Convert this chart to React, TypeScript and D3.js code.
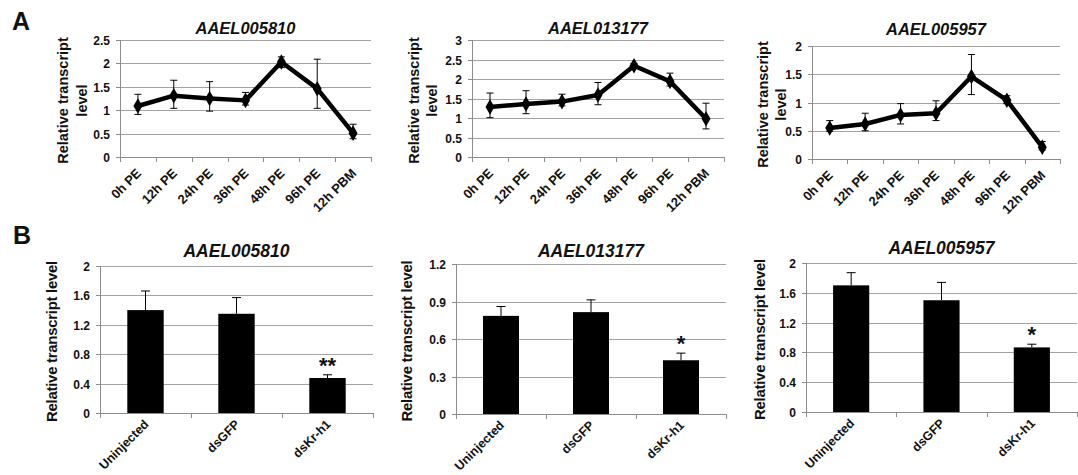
import { useEffect, useRef } from 'react';
import * as d3 from 'd3';

// categories
const timepoints = ['0h PE', '12h PE', '24h PE', '36h PE', '48h PE', '96h PE', '12h PBM'];
const treatments = ['Uninjected', 'dsGFP', 'dsKr-h1'];
const genes = ['AAEL005810', 'AAEL013177', 'AAEL005957'];

// Panel A: time course (mean, lower and upper error bar ends)
const a005810Mean = [1.09, 1.31, 1.25, 1.21, 2.03, 1.46, 0.51];
const a005810Low = [0.91, 1.04, 0.98, 1.11, 1.91, 1.04, 0.39];
const a005810High = [1.34, 1.64, 1.61, 1.38, 2.14, 2.09, 0.70];

const a013177Mean = [1.28, 1.36, 1.42, 1.59, 2.34, 1.94, 0.98];
const a013177Low = [1.01, 1.11, 1.31, 1.34, 2.28, 1.82, 0.72];
const a013177High = [1.64, 1.70, 1.61, 1.91, 2.40, 2.15, 1.38];

const a005957Mean = [0.55, 0.62, 0.78, 0.81, 1.46, 1.04, 0.21];
const a005957Low = [0.49, 0.50, 0.62, 0.68, 1.14, 0.98, 0.16];
const a005957High = [0.68, 0.81, 0.98, 1.03, 1.85, 1.12, 0.31];

const aTicks = [
  [0, 0.5, 1, 1.5, 2, 2.5],
  [0, 0.5, 1, 1.5, 2, 2.5, 3],
  [0, 0.5, 1, 1.5, 2],
];

// Panel B: knockdown (mean and upper error bar end)
const b005810Mean = [1.40, 1.35, 0.476];
const b005810High = [1.66, 1.57, 0.52];
const b013177Mean = [0.785, 0.815, 0.43];
const b013177High = [0.86, 0.913, 0.487];
const b005957Mean = [1.70, 1.50, 0.867];
const b005957High = [1.87, 1.74, 0.91];
const bStars = [['', '', '**'], ['', '', '*'], ['', '', '*']];

const bTicks = [
  [0, 0.4, 0.8, 1.2, 1.6, 2],
  [0, 0.3, 0.6, 0.9, 1.2],
  [0, 0.4, 0.8, 1.2, 1.6, 2],
];

const FONT = "'Liberation Sans', Arial, sans-serif";
const GRID = '#a3a3a3';
const INK = '#111';

const aFrames = [
  { left: 120, right: 371, top: 40, bottom: 157, titleY: 34, lab1: 63, lab2: 82 },
  { left: 472, right: 724, top: 40, bottom: 157, titleY: 34, lab1: 414, lab2: 432 },
  { left: 812, right: 1060, top: 46, bottom: 159, titleY: 35, lab1: 763, lab2: 781 },
];
const bFrames = [
  { left: 100, right: 373, top: 266, bottom: 413, titleY: 257, lab: 52 },
  { left: 456, right: 726, top: 264, bottom: 414, titleY: 257, lab: 407 },
  { left: 806, right: 1077, top: 263, bottom: 412, titleY: 254, lab: 760 },
];

const drawFrame = (g, x, y, ticks, f, cats) => {
  // gridlines
  g.selectAll('.grid').data(ticks.slice(1)).enter().append('line')
    .attr('x1', f.left).attr('x2', f.right)
    .attr('y1', d => Math.round(y(d)) + 0.5).attr('y2', d => Math.round(y(d)) + 0.5)
    .attr('stroke', GRID).attr('stroke-width', 1);

  // axes
  g.append('line').attr('x1', f.left + 0.5).attr('x2', f.left + 0.5)
    .attr('y1', f.top).attr('y2', f.bottom).attr('stroke', '#8c8c8c');
  g.append('line').attr('x1', f.left).attr('x2', f.right)
    .attr('y1', f.bottom + 0.5).attr('y2', f.bottom + 0.5).attr('stroke', '#8c8c8c');

  // y ticks + labels
  ticks.forEach(t => {
    const yy = Math.round(y(t)) + 0.5;
    g.append('line').attr('x1', f.left - 4).attr('x2', f.left).attr('y1', yy).attr('y2', yy).attr('stroke', '#8c8c8c');
    g.append('text').attr('x', f.left - 10).attr('y', yy).attr('dy', '0.35em')
      .attr('text-anchor', 'end').attr('font-family', FONT).attr('font-weight', 'bold')
      .attr('font-size', 12).attr('fill', INK).text(String(t));
  });

  // x ticks at category boundaries
  const edges = cats.map(c => x(c)).concat([x(cats[cats.length - 1]) + x.bandwidth()]);
  edges.forEach(e => {
    g.append('line').attr('x1', Math.round(e) + 0.5).attr('x2', Math.round(e) + 0.5)
      .attr('y1', f.bottom).attr('y2', f.bottom + 5).attr('stroke', '#8c8c8c');
  });
};

const xLabels = (g, x, f, cats, dx, dy, size) => {
  cats.forEach(c => {
    const cx = x(c) + x.bandwidth() / 2 + dx;
    const cy = f.bottom + dy;
    g.append('text').attr('transform', `translate(${cx},${cy}) rotate(-45)`)
      .attr('text-anchor', 'end').attr('font-family', FONT).attr('font-weight', 'bold')
      .attr('font-size', size).attr('fill', INK).text(c);
  });
};

const title = (g, f, name, size) => {
  g.append('text').attr('x', (f.left + f.right) / 2).attr('y', f.titleY)
    .attr('text-anchor', 'middle').attr('font-family', FONT).attr('font-weight', 'bold')
    .attr('font-style', 'italic').attr('font-size', size).attr('fill', INK).text(name);
};

const App = () => {
  const svgRef = useRef(null);

  useEffect(() => {
    const svg = d3.select(svgRef.current);
    svg.selectAll('*').remove();

    const aSeries = [
      { mean: a005810Mean, low: a005810Low, high: a005810High },
      { mean: a013177Mean, low: a013177Low, high: a013177High },
      { mean: a005957Mean, low: a005957Low, high: a005957High },
    ];
    const bSeries = [
      { mean: b005810Mean, high: b005810High },
      { mean: b013177Mean, high: b013177High },
      { mean: b005957Mean, high: b005957High },
    ];

    // panel letters
    svg.append('text').attr('x', 12).attr('y', 30).attr('font-family', FONT).attr('font-weight', 'bold')
      .attr('font-size', 25).attr('fill', INK).text('A');
    svg.append('text').attr('x', 13).attr('y', 244).attr('font-family', FONT).attr('font-weight', 'bold')
      .attr('font-size', 25).attr('fill', INK).text('B');

    // ---- Panel A: line charts
    aSeries.forEach((s, i) => {
      const f = aFrames[i];
      const ticks = aTicks[i];
      const g = svg.append('g');
      const x = d3.scaleBand().domain(timepoints).range([f.left, f.right]).padding(0);
      const y = d3.scaleLinear().domain([0, d3.max(ticks)]).range([f.bottom, f.top]);
      const cx = c => x(c) + x.bandwidth() / 2;

      drawFrame(g, x, y, ticks, f, timepoints);

      const pts = timepoints.map((c, k) => ({ c, v: s.mean[k], lo: s.low[k], hi: s.high[k] }));

      const line = d3.line().x(d => cx(d.c)).y(d => y(d.v));
      g.append('path').datum(pts).attr('d', line).attr('fill', 'none')
        .attr('stroke', '#000').attr('stroke-width', 4.5).attr('stroke-linejoin', 'round');

      pts.forEach(d => {
        const px = cx(d.c);
        g.append('line').attr('x1', px).attr('x2', px).attr('y1', y(d.lo)).attr('y2', y(d.hi))
          .attr('stroke', '#000').attr('stroke-width', 1);
        [d.lo, d.hi].forEach(v => {
          g.append('line').attr('x1', px - 3.5).attr('x2', px + 3.5).attr('y1', y(v)).attr('y2', y(v))
            .attr('stroke', '#000').attr('stroke-width', 1);
        });
        g.append('path').attr('d', d3.symbol(d3.symbolDiamond, 70)())
          .attr('transform', `translate(${px},${y(d.v)})`).attr('fill', '#000');
      });

      xLabels(g, x, f, timepoints, 4, 17, 13);
      title(g, f, genes[i], 16.5);

      // two-line y label
      const ly = (f.top + f.bottom) / 2 + 2;
      [['Relative transcript', f.lab1], ['level', f.lab2]].forEach(([t, lx]) => {
        g.append('text').attr('transform', `translate(${lx},${ly}) rotate(-90)`).attr('dy', '0.35em')
          .attr('text-anchor', 'middle').attr('font-family', FONT).attr('font-weight', 'bold')
          .attr('font-size', 14.5).attr('fill', INK).text(t);
      });
    });

    // ---- Panel B: bar charts
    bSeries.forEach((s, i) => {
      const f = bFrames[i];
      const ticks = bTicks[i];
      const g = svg.append('g');
      const x = d3.scaleBand().domain(treatments).range([f.left, f.right]).padding(0);
      const y = d3.scaleLinear().domain([0, d3.max(ticks)]).range([f.bottom, f.top]);
      const bw = x.bandwidth() * 0.4;

      drawFrame(g, x, y, ticks, f, treatments);

      treatments.forEach((c, k) => {
        const px = x(c) + x.bandwidth() / 2;
        const top = y(s.mean[k]);
        const hi = y(s.high[k]);
        g.append('rect').attr('x', px - bw / 2).attr('y', top).attr('width', bw)
          .attr('height', f.bottom - top).attr('fill', '#000');
        g.append('line').attr('x1', px).attr('x2', px).attr('y1', top).attr('y2', hi)
          .attr('stroke', '#000').attr('stroke-width', 1);
        g.append('line').attr('x1', px - 4.5).attr('x2', px + 4.5).attr('y1', hi).attr('y2', hi)
          .attr('stroke', '#000').attr('stroke-width', 1);
        if (bStars[i][k]) {
          g.append('text').attr('x', px).attr('y', hi - 2).attr('text-anchor', 'middle')
            .attr('font-family', FONT).attr('font-weight', 'bold').attr('font-size', 22)
            .attr('fill', INK).text(bStars[i][k]);
        }
      });

      xLabels(g, x, f, treatments, 4, 12, 12.5);
      title(g, f, genes[i], 17.5);

      g.append('text').attr('transform', `translate(${f.lab},${(f.top + f.bottom) / 2 + 2}) rotate(-90)`)
        .attr('dy', '0.35em').attr('text-anchor', 'middle').attr('font-family', FONT)
        .attr('font-weight', 'bold').attr('font-size', 15).attr('letter-spacing', -0.3)
        .attr('fill', INK).text('Relative transcript level');
    });
  }, []);

  return (
    <svg ref={svgRef} width={1078} height={475}
      style={{ position: 'absolute', left: 0, top: 0, background: '#fff', display: 'block' }} />
  );
};

export default App;
